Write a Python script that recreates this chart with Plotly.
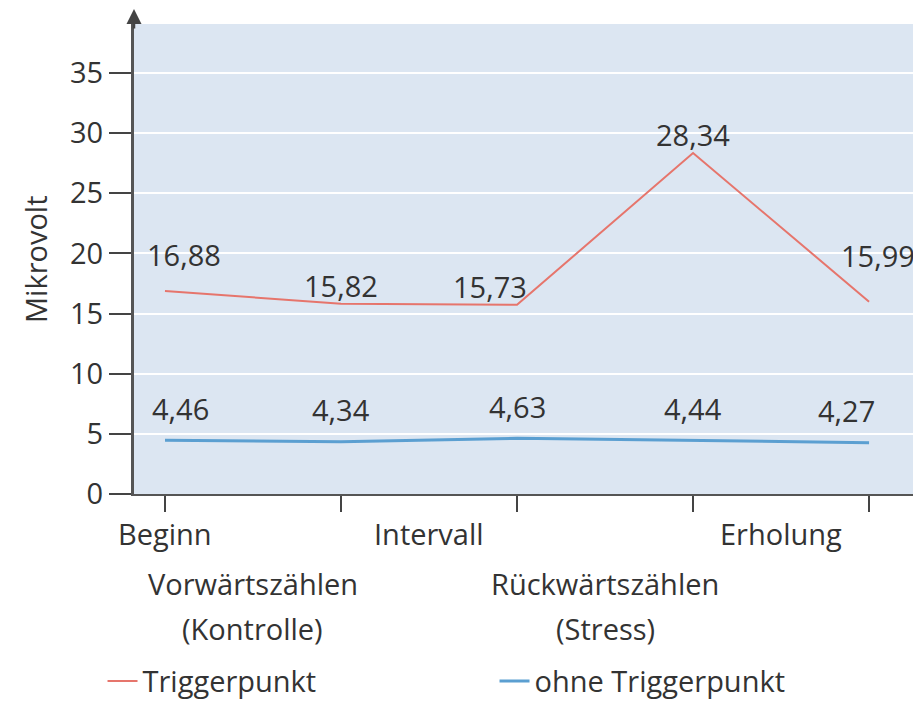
import plotly.graph_objects as go

# ---- data ----
points = ["Beginn", "Vorwärtszählen", "Intervall", "Rückwärtszählen", "Erholung"]
trigger = [16.88, 15.82, 15.73, 28.34, 15.99]
ohne = [4.46, 4.34, 4.63, 4.44, 4.27]
series_names = ["Triggerpunkt", "ohne Triggerpunkt"]
y_ticks = [0, 5, 10, 15, 20, 25, 30, 35]
phase_row1 = ["Beginn", "Intervall", "Erholung"]
phase_row1_pos = [0, 1.5, 3.5]
phase_row2 = [["Vorwärtszählen", "(Kontrolle)"], ["Rückwärtszählen", "(Stress)"]]
phase_row2_pos = [0.5, 2.5]

FONT = "Open Sans"
FS = 29
TXT = "#333333"
RED = "#e6756c"
BLUE = "#5b9fd1"

x = list(range(len(points)))

fig = go.Figure()
fig.add_trace(go.Scatter(x=x, y=trigger, mode="lines", name=series_names[0],
                         line=dict(color=RED, width=2)))
fig.add_trace(go.Scatter(x=x, y=ohne, mode="lines", name=series_names[1],
                         line=dict(color=BLUE, width=3)))

def fmt(v):
    return f"{v:.2f}".replace(".", ",")

# data labels
red_xshift = [19, 0, -27, 0, 9]
red_yshift = [36, 18, 18, 19, 46]
blue_xshift = [16, 0, 0, 0, -23]
for i, v in enumerate(trigger):
    fig.add_annotation(x=x[i], y=v, text=fmt(v), showarrow=False,
                       xshift=red_xshift[i], yshift=red_yshift[i],
                       font=dict(family=FONT, size=FS, color=TXT))
for i, v in enumerate(ohne):
    fig.add_annotation(x=x[i], y=v, text=fmt(v), showarrow=False,
                       xshift=blue_xshift[i], yshift=32,
                       font=dict(family=FONT, size=FS, color=TXT))

# category labels below axis
for lab, pos in zip(phase_row1, phase_row1_pos):
    fig.add_annotation(x=pos, y=0, yref="y", text=lab, showarrow=False,
                       yanchor="middle", yshift=-39,
                       font=dict(family=FONT, size=FS, color=TXT))
for lines, pos in zip(phase_row2, phase_row2_pos):
    for j, ln in enumerate(lines):
        fig.add_annotation(x=pos, y=0, yref="y", text=ln, showarrow=False,
                           yanchor="middle", yshift=-89 - 45 * j,
                           font=dict(family=FONT, size=FS, color=TXT))

# y-axis title
fig.add_annotation(x=0, xref="paper", xanchor="center", xshift=-99, y=0.5,
                   yref="paper", yanchor="middle",
                   text="Mikrovolt", textangle=-90, showarrow=False,
                   font=dict(family=FONT, size=FS, color=TXT))

# y-axis arrow
fig.add_annotation(x=0, xref="paper", y=1.034, yref="paper", ax=0, ay=22,
                   text="", showarrow=True, arrowhead=2, arrowsize=1.2,
                   arrowwidth=2.5, arrowcolor="#444444")

fig.update_layout(
    width=913, height=693,
    margin=dict(l=126, r=0, t=16, b=207, autoexpand=False),
    paper_bgcolor="white", plot_bgcolor="#dce6f2",
    font=dict(family=FONT, size=FS, color=TXT),
    showlegend=True,
    legend=dict(orientation="h", x=-0.04, xanchor="left", y=-0.398, yanchor="middle",
                font=dict(family=FONT, size=FS, color=TXT), entrywidth=347,
                bgcolor="rgba(0,0,0,0)"),
)
fig.update_xaxes(range=[-0.176, 4.295], tickvals=x, ticktext=["" for _ in x],
                 ticks="outside", ticklen=16, tickwidth=2, tickcolor="#444444",
                 showgrid=False, zeroline=False, showline=True, linecolor="#555555",
                 linewidth=2, automargin=False)
fig.update_yaxes(range=[0, 39.07], tickvals=y_ticks, ticks="outside", ticklen=22,
                 tickwidth=2, tickcolor="#444444", showgrid=True, gridcolor="white",
                 gridwidth=2, zeroline=False, showline=True, linecolor="#555555",
                 linewidth=3, automargin=False,
                 tickfont=dict(family=FONT, size=FS, color=TXT))

fig.write_html("out.html")
